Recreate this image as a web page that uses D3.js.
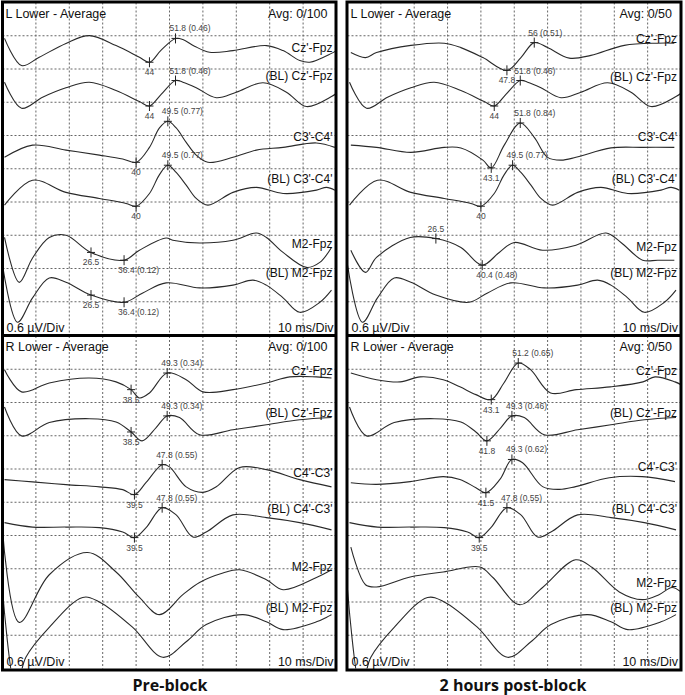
<!DOCTYPE html>
<html lang="en">
<head>
<meta charset="UTF-8">
<title>SSEP lower limb - pre-block / post-block</title>
<script src="https://cdn.jsdelivr.net/npm/d3@7/dist/d3.min.js"></script>
<style>
  body { margin: 0; background: #fff; }
  text { font-family: "Liberation Sans", Arial, sans-serif; }
  .grid line { stroke: #666; stroke-width: 1; stroke-dasharray: 2,2; }
  .trace { fill: none; stroke: #2a2a2a; stroke-width: 1.1; }
  .cursor { stroke: #222; stroke-width: 1; }
  .clabel { font-size: 8.5px; fill: #444; }
  .tname { font-size: 12px; fill: #111; }
  .hdr { font-size: 12.5px; fill: #111; }
  .frame { fill: none; stroke: #000; stroke-width: 3; }
  .title { font-family: "Open Sans", sans-serif; font-weight: 700; font-size: 16px; fill: #111; }
</style>
</head>
<body>
<script>
// waveforms: [latency ms, amplitude µV] ; display 0.6 µV/Div, 10 ms/Div
// left lower limb (tibial) - pre-block traces
const czL_pre = [[0.6,0.18],[5.7,-0.31],[11,-0.16],[19,0.09],[26,0.23],[34,0.05],[41,-0.16],[44,-0.25],[47.5,-0.03],[51.8,0.18],[54,0.16],[57.5,0.04],[62,-0.07],[69,-0.04],[79,0.05],[84,-0.04],[89,-0.22],[92,-0.25],[98.5,-0.09],[100,-0.04]];
const c3L_pre = [[0.6,-0.13],[9,0.09],[19,0],[29,-0.09],[36,-0.16],[40,-0.22],[44,0.05],[47,0.4],[49.5,0.52],[52,0.4],[55,0.14],[58,-0.09],[61.5,-0.22],[69,-0.13],[76,0],[84,0.05],[94,0.13],[99.5,0.05]];
const m2L_pre = [[0.6,0.23],[5,-0.58],[9,-0.14],[14,0.23],[19,0.27],[26.5,-0.04],[36.4,-0.18],[41,0],[49,0.22],[51,0.18],[59,0.13],[69,0.18],[76,0.31],[79,0.23],[84,-0.04],[91,-0.31],[95,-0.22],[98.5,0.05]];
// left - baseline traces
const blCzL = [[0.6,0.2],[5.7,-0.27],[12,-0.07],[19,0.1],[26,0.2],[34,0.05],[41,-0.15],[44,-0.23],[47.5,-0.02],[51.8,0.23],[54,0.2],[58,0.1],[64,-0.08],[70,0.02],[78,0.19],[85,0.02],[91,-0.24],[98.5,-0.06],[100,0]];
const blC3L = [[0.6,-0.23],[9,0.22],[19,0],[29,-0.11],[37,-0.2],[40,-0.25],[44,-0.02],[47,0.32],[49.5,0.49],[52,0.36],[55,0.13],[58,-0.11],[61.5,-0.23],[69,0],[76,0.09],[84,-0.02],[94,0.04],[97,0.09],[99.5,0.04]];
const blM2L = [[0,0.54],[4.5,-0.49],[9,-0.05],[14,0.31],[19,0.23],[26.5,0],[36.4,-0.13],[42,0.04],[49,0.22],[59,0.13],[69,0.18],[75,0.27],[79,0.18],[84,-0.05],[89,-0.31],[95,-0.13],[98.5,0.09]];
// left - 2 hours post-block
const czL_post = [[1,-0.04],[5.4,-0.13],[8.7,-0.04],[19,0.09],[29,0.13],[34,0.05],[40.6,-0.13],[47.8,-0.36],[52,-0.13],[56,0.14],[60,0.05],[66.5,-0.14],[73,-0.09],[83,0.09],[93,0.13],[98,0.13]];
const c3L_post = [[1,0.09],[8.7,0.05],[19,-0.04],[29,0.05],[34,0.04],[40.6,-0.18],[43.1,-0.32],[47,0.09],[51.8,0.49],[56,0.23],[60,-0.13],[64,-0.18],[68.5,-0.13],[79,0.04],[88.5,0.05],[98,0.05]];
const m2L_post = [[1,0],[5.4,-0.4],[8.7,-0.13],[18.8,0.23],[26.5,0.21],[34,0.05],[40.4,-0.27],[45.5,-0.04],[50,0.14],[58.5,0],[68.5,0.09],[77.5,0.31],[82,0.14],[88.5,-0.18],[93,-0.18],[98,-0.18]];

// right lower limb - pre-block traces
const czR_pre = [[0.6,0.22],[5.7,-0.18],[14,-0.02],[26,0.07],[34,0],[38.5,-0.14],[41,-0.29],[44,-0.2],[49.3,0.16],[55,0.04],[60,-0.18],[69,-0.14],[79,-0.02],[86,0.09],[94,0.09],[98.5,0.07]];
const c4R_pre = [[0.6,0],[9,-0.04],[19,-0.09],[29,-0.13],[36,-0.18],[39.5,-0.27],[43,-0.05],[47.8,0.27],[50,0.23],[55,-0.13],[60,-0.23],[64,-0.13],[71,0.22],[79,0.18],[89,0],[98.5,-0.13]];
const m2R_pre = [[0,0.9],[5,-0.77],[14,0.09],[25.5,0.49],[34,0.14],[41,-0.32],[47,-0.63],[54,-0.27],[59,-0.05],[66,0.12],[71,0.18],[79,0],[84,-0.18],[94,0.04],[98.5,0.18]];
// right - baseline traces
const blCzR = [[0.6,0.32],[5.7,-0.2],[14,0.04],[26,0.11],[34,0.05],[38.5,-0.13],[41.8,-0.29],[46,-0.05],[49.3,0.16],[53,0.13],[59,-0.18],[69,-0.09],[79,0],[89,0.09],[98.5,0.13]];
const blC4R = [[0.6,0.04],[9,-0.04],[19,-0.04],[29,-0.05],[36,-0.13],[39.5,-0.23],[43,-0.05],[47.8,0.31],[52,0.18],[57,-0.22],[61,-0.13],[69,0.18],[79,0.13],[89,0.04],[98.5,-0.09]];
const blM2R = [[0,0.63],[4,-1.17],[7,-0.59],[14,-0.05],[24,0.49],[29,0.41],[39,-0.05],[48,-0.59],[55,-0.31],[61,0],[72,0.18],[79,0.05],[84,-0.09],[94,0.05],[98.5,0.18]];
// right - 2 hours post-block
const czR_post = [[1,0.16],[8.7,0.04],[15.8,0],[21.8,0.09],[28.7,0.04],[33.7,-0.09],[38.5,-0.23],[43.1,-0.32],[46.9,-0.02],[51.2,0.34],[54.9,0.22],[60.9,-0.2],[68.6,-0.14],[78.8,-0.09],[88.6,0],[92.2,0.09],[98.2,0],[100,-0.05]];
const c4R_post = [[1,-0.02],[8.7,-0.05],[18.8,0],[28.7,0.09],[33.7,0.04],[38.5,-0.11],[41.5,-0.2],[45.7,0.04],[49.3,0.4],[52.5,0.34],[58.5,-0.09],[63.6,-0.14],[68.4,-0.09],[78.5,0.07],[88.4,0.09],[98.2,0]];
const m2R_post = [[1,0.59],[5.4,-0.09],[8.7,-0.13],[18.8,0.05],[28.7,0.14],[39.7,0.23],[43.6,0.04],[51.6,-0.45],[58.5,-0.14],[68.4,0.36],[73.4,0.22],[81.5,-0.22],[88.4,-0.36],[93.4,-0.27],[97.3,-0.14],[100,-0.22]];

const uVperDiv = 0.6;
const headers = ["L Lower - Average", "L Lower - Average", "R Lower - Average", "R Lower - Average"];
const avgText = ["Avg: 0/100", "Avg: 0/50", "Avg: 0/100", "Avg: 0/50"];
const columnTitles = ["Pre-block", "2 hours post-block"];

// panel layout (pixels) and trace rows (in divisions from top)
const panels = [
  { x0: 2.5, x1: 336.5, y0: 2.5, y1: 335, traces: [
    { name: "Cz'-Fpz", data: czL_pre, base: 1.38, lab: 1.5, marks: [[44, "44", "b"], [51.8, "51.8 (0.46)", "a"]] },
    { name: "(BL) Cz'-Fpz", data: blCzL, base: 2.73, lab: 2.34, marks: [[44, "44", "b"], [51.8, "51.8 (0.46)", "a"]] },
    { name: "C3'-C4'", data: c3L_pre, base: 4.44, lab: 4.17, marks: [[40, "40", "b"], [49.5, "49.5 (0.77)", "a"]] },
    { name: "(BL) C3'-C4'", data: blC3L, base: 5.71, lab: 5.44, marks: [[40, "40", "b"], [49.5, "49.5 (0.77)", "a"]] },
    { name: "M2-Fpz", data: m2L_pre, base: 7.45, lab: 7.39, marks: [[26.5, "26.5", "b"], [36.4, "36.4 (0.12)", "b"]] },
    { name: "(BL) M2-Fpz", data: blM2L, base: 8.8, lab: 8.26, marks: [[26.5, "26.5", "b"], [36.4, "36.4 (0.12)", "b"]] }
  ]},
  { x0: 347.5, x1: 681, y0: 2.5, y1: 335, traces: [
    { name: "Cz'-Fpz", data: czL_post, base: 1.44, lab: 1.23, marks: [[47.8, "47.8", "b"], [56, "56 (0.51)", "a"]] },
    { name: "(BL) Cz'-Fpz", data: blCzL, base: 2.73, lab: 2.37, marks: [[44, "44", "b"], [51.8, "51.8 (0.46)", "a"]] },
    { name: "C3'-C4'", data: c3L_post, base: 4.44, lab: 4.17, marks: [[43.1, "43.1", "b"], [51.8, "51.8 (0.84)", "a"]] },
    { name: "(BL) C3'-C4'", data: blC3L, base: 5.71, lab: 5.44, marks: [[40, "40", "b"], [49.5, "49.5 (0.77)", "a"]] },
    { name: "M2-Fpz", data: m2L_post, base: 7.45, lab: 7.48, marks: [[26.5, "26.5", "a"], [40.4, "40.4 (0.48)", "b"]] },
    { name: "(BL) M2-Fpz", data: blM2L, base: 8.8, lab: 8.26, marks: [] }
  ]},
  { x0: 2.5, x1: 336.5, y0: 336, y1: 668.5, traces: [
    { name: "Cz'-Fpz", data: czR_pre, base: 1.38, lab: 1.17, marks: [[38.5, "38.5", "b"], [49.3, "49.3 (0.34)", "a"]] },
    { name: "(BL) Cz'-Fpz", data: blCzR, base: 2.67, lab: 2.43, marks: [[38.5, "38.5", "b"], [49.3, "49.3 (0.34)", "a"]] },
    { name: "C4'-C3'", data: c4R_pre, base: 4.32, lab: 4.23, marks: [[39.5, "39.5", "b"], [47.8, "47.8 (0.55)", "a"]] },
    { name: "(BL) C4'-C3'", data: blC4R, base: 5.68, lab: 5.32, marks: [[39.5, "39.5", "b"], [47.8, "47.8 (0.55)", "a"]] },
    { name: "M2-Fpz", data: m2R_pre, base: 7.33, lab: 7.06, marks: [] },
    { name: "(BL) M2-Fpz", data: blM2R, base: 8.68, lab: 8.29, marks: [] }
  ]},
  { x0: 347.5, x1: 681, y0: 336, y1: 668.5, traces: [
    { name: "Cz'-Fpz", data: czR_post, base: 1.38, lab: 1.17, marks: [[43.1, "43.1", "b"], [51.2, "51.2 (0.65)", "a"]] },
    { name: "(BL) Cz'-Fpz", data: blCzR, base: 2.67, lab: 2.43, marks: [[41.8, "41.8", "b"], [49.3, "49.3 (0.46)", "a"]] },
    { name: "C4'-C3'", data: c4R_post, base: 4.38, lab: 4.05, marks: [[41.5, "41.5", "b"], [49.3, "49.3 (0.62)", "a"]] },
    { name: "(BL) C4'-C3'", data: blC4R, base: 5.68, lab: 5.32, marks: [[39.5, "39.5", "b"], [47.8, "47.8 (0.55)", "a"]] },
    { name: "M2-Fpz", data: m2R_post, base: 7.33, lab: 7.54, marks: [] },
    { name: "(BL) M2-Fpz", data: blM2R, base: 8.68, lab: 8.29, marks: [] }
  ]}
];

const width = 685, height = 695;
const svg = d3.select("body").append("svg").attr("width", width).attr("height", height);

// value of a trace at a latency (exact point or linear between points)
function valueAt(data, ms) {
  for (let i = 0; i < data.length - 1; i++) {
    const a = data[i], b = data[i + 1];
    if (ms >= a[0] && ms <= b[0]) return a[1] + (b[1] - a[1]) * (ms - a[0]) / (b[0] - a[0]);
  }
  return data[data.length - 1][1];
}

panels.forEach((p, pi) => {
  const x = d3.scaleLinear().domain([0, 100]).range([p.x0, p.x1]);
  const y = d3.scaleLinear().domain([0, 10]).range([p.y0, p.y1]);
  const g = svg.append("g");

  g.append("clipPath").attr("id", "clip" + pi)
    .append("rect").attr("x", p.x0).attr("y", p.y0).attr("width", p.x1 - p.x0).attr("height", p.y1 - p.y0);

  // dotted grid, 10 x 10 divisions
  const grid = g.append("g").attr("class", "grid");
  grid.selectAll("line.v").data(d3.range(10, 100, 10)).enter().append("line")
    .attr("x1", d => x(d)).attr("x2", d => x(d)).attr("y1", p.y0).attr("y2", p.y1);
  grid.selectAll("line.h").data(d3.range(1, 10)).enter().append("line")
    .attr("x1", p.x0).attr("x2", p.x1).attr("y1", d => y(d)).attr("y2", d => y(d));

  const plot = g.append("g").attr("clip-path", `url(#clip${pi})`);

  p.traces.forEach(t => {
    const line = d3.line()
      .x(d => x(d[0]))
      .y(d => y(t.base - d[1] / uVperDiv))
      .curve(d3.curveCatmullRom.alpha(0.5));
    plot.append("path").attr("class", "trace").attr("d", line(t.data));

    // trace name, right side
    g.append("text").attr("class", "tname")
      .attr("x", p.x1 - 4).attr("y", y(t.lab))
      .attr("text-anchor", "end").text(t.name);

    // latency cursors
    t.marks.forEach(m => {
      const cx = x(m[0]), cy = y(t.base - valueAt(t.data, m[0]) / uVperDiv);
      plot.append("line").attr("class", "cursor").attr("x1", cx).attr("x2", cx).attr("y1", cy - 5).attr("y2", cy + 5);
      plot.append("line").attr("class", "cursor").attr("x1", cx - 4).attr("x2", cx + 4).attr("y1", cy).attr("y2", cy);
      const withAmp = m[1].indexOf("(") > 0;
      g.append("text").attr("class", "clabel")
        .attr("x", withAmp ? cx - 6 : cx)
        .attr("y", m[2] === "a" ? cy - 7 : cy + 13)
        .attr("text-anchor", withAmp ? "start" : "middle")
        .text(m[1]);
    });
  });

  // header / footer text
  g.append("text").attr("class", "hdr").attr("x", p.x0 + 3).attr("y", p.y0 + 15).text(headers[pi]);
  g.append("text").attr("class", "hdr").attr("x", p.x1 - 9).attr("y", p.y0 + 15).attr("text-anchor", "end").text(avgText[pi]);
  g.append("text").attr("class", "hdr").attr("x", p.x0 + 4).attr("y", p.y1 - 3).text("0.6 \u00b5V/Div");
  g.append("text").attr("class", "hdr").attr("x", p.x1 - 3).attr("y", p.y1 - 3).attr("text-anchor", "end").text("10 ms/Div");
});

// thick frames around each column, with divider between the two panels
[[2.5, 336], [347, 681]].forEach(c => {
  svg.append("rect").attr("class", "frame").attr("x", c[0]).attr("y", 2).attr("width", c[1] - c[0]).attr("height", 668);
  svg.append("line").attr("class", "frame").attr("x1", c[0]).attr("x2", c[1]).attr("y1", 335.5).attr("y2", 335.5);
});

svg.selectAll("text.title").data(columnTitles).enter().append("text")
  .attr("class", "title")
  .attr("x", (d, i) => i === 0 ? 170 : 513)
  .attr("y", 691)
  .attr("text-anchor", "middle")
  .text(d => d);
</script>
</body>
</html>
